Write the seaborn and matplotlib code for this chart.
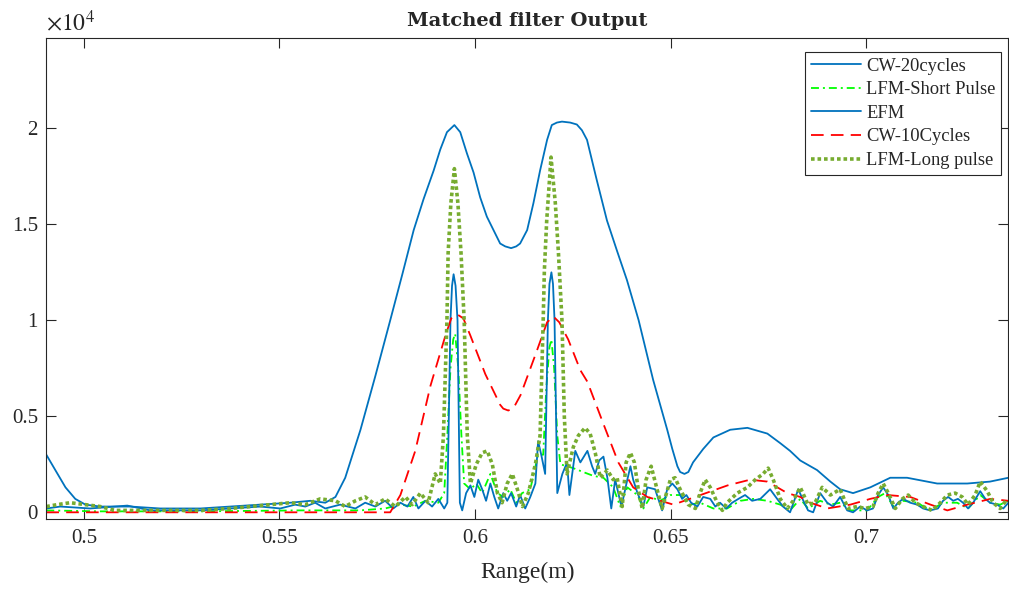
import numpy as np
import pandas as pd
import matplotlib
matplotlib.use('Agg')
import matplotlib.pyplot as plt
from matplotlib.ticker import FuncFormatter
import seaborn as sns

# Range (m) and matched filter output

# CW-20cycles (broad, smooth)
cw20_x = [0.4904, 0.4927, 0.4953, 0.4978, 0.5004, 0.5042, 0.5119, 0.5195, 0.5298, 0.5374,
          0.5451, 0.5528, 0.5579, 0.5617, 0.5643, 0.5668, 0.5707, 0.5745, 0.5783, 0.5814,
          0.5843, 0.5868, 0.5894, 0.5911, 0.5928, 0.5947, 0.5962, 0.5979, 0.5996, 0.6013,
          0.6030, 0.6047, 0.6064, 0.6077, 0.6092, 0.6105, 0.6115, 0.6133, 0.6149, 0.6166,
          0.6184, 0.6196, 0.6209, 0.6222, 0.6243, 0.6260, 0.6273, 0.6286, 0.6311, 0.6337,
          0.6363, 0.6388, 0.6418, 0.6455, 0.6473, 0.6491, 0.6504, 0.6517, 0.6524, 0.6535,
          0.6545, 0.6557, 0.6583, 0.6609, 0.6652, 0.6696, 0.6747, 0.6780, 0.6805, 0.6831,
          0.6874, 0.6908, 0.6933, 0.6966, 0.7010, 0.7061, 0.7104, 0.7181, 0.7258, 0.7316,
          0.7363]
cw20_y = [3000, 2200, 1300, 700, 400, 300, 300, 200, 200, 300,
          400, 500, 600, 500, 800, 1800, 4300, 7100, 10000, 12400,
          14700, 16300, 17800, 18900, 19800, 20170, 19800, 18700, 17700, 16400,
          15400, 14700, 14000, 13850, 13760, 13850, 14000, 14700, 16100, 17800,
          19400, 20170, 20300, 20350, 20300, 20200, 19900, 19400, 17300, 15200,
          13600, 12100, 10000, 6900, 5600, 4300, 3300, 2400, 2100, 2000,
          2100, 2600, 3300, 3900, 4300, 4400, 4100, 3600, 3200, 2700,
          2200, 1600, 1200, 1000, 1300, 1800, 1800, 1500, 1500, 1600,
          1800]

# LFM-Short Pulse
lfms_x = [0.4904, 0.5042, 0.5298, 0.5553, 0.5706, 0.5770, 0.5809, 0.5842, 0.5873, 0.5906,
          0.5921, 0.5929, 0.5937, 0.5944, 0.5949, 0.5957, 0.5965, 0.5972, 0.5988, 0.6003,
          0.6018, 0.6039, 0.6057, 0.6072, 0.6090, 0.6105, 0.6120, 0.6141, 0.6161, 0.6174,
          0.6182, 0.6190, 0.6195, 0.6202, 0.6210, 0.6218, 0.6251, 0.6276, 0.6302, 0.6328,
          0.6353, 0.6371, 0.6389, 0.6415, 0.6430, 0.6448, 0.6473, 0.6499, 0.6524, 0.6550,
          0.6575, 0.6609, 0.6644, 0.6678, 0.6711, 0.6747, 0.6780, 0.6805, 0.6831, 0.6851,
          0.6882, 0.6908, 0.6933, 0.6959, 0.7002, 0.7030, 0.7048, 0.7069, 0.7094, 0.7130,
          0.7163, 0.7196, 0.7232, 0.7260, 0.7291, 0.7316, 0.7342, 0.7363]
lfms_y = [100, 50, 50, 100, 100, 200, 400, 300, 600, 500,
          1000, 4000, 7500, 9000, 9300, 7500, 4000, 1500, 1200, 1500,
          1000, 2000, 1000, 800, 1200, 500, 1000, 1200, 3000, 3000,
          6500, 8600, 9000, 7500, 4000, 2500, 2300, 2100, 1900, 1800,
          1300, 300, 1300, 900, 200, 800, 600, 900, 900, 400,
          500, 200, 200, 600, 700, 600, 400, 100, 700, 200,
          600, 400, 500, 100, 100, 800, 1000, 300, 600, 500,
          100, 500, 500, 200, 900, 500, 400, 600]

# EFM (narrow spikes)
efm_x = [0.4904, 0.4940, 0.5016, 0.5111, 0.5170, 0.5298, 0.5374, 0.5451, 0.5502, 0.5540,
         0.5566, 0.5591, 0.5617, 0.5655, 0.5694, 0.5719, 0.5745, 0.5770, 0.5791, 0.5809,
         0.5827, 0.5842, 0.5855, 0.5873, 0.5890, 0.5906, 0.5921, 0.5929, 0.5937, 0.5941,
         0.5945, 0.5950, 0.5955, 0.5961, 0.5967, 0.5977, 0.5988, 0.5998, 0.6008, 0.6018,
         0.6028, 0.6039, 0.6049, 0.6059, 0.6072, 0.6082, 0.6092, 0.6105, 0.6115, 0.6128,
         0.6141, 0.6154, 0.6161, 0.6169, 0.6179, 0.6186, 0.6190, 0.6195, 0.6199, 0.6203,
         0.6210, 0.6223, 0.6235, 0.6241, 0.6256, 0.6269, 0.6287, 0.6299, 0.6307, 0.6317,
         0.6328, 0.6338, 0.6348, 0.6358, 0.6374, 0.6389, 0.6397, 0.6404, 0.6415, 0.6430,
         0.6440, 0.6460, 0.6478, 0.6491, 0.6504, 0.6517, 0.6529, 0.6540, 0.6552, 0.6568,
         0.6583, 0.6601, 0.6614, 0.6626, 0.6642, 0.6657, 0.6673, 0.6690, 0.6708, 0.6729,
         0.6754, 0.6772, 0.6787, 0.6805, 0.6826, 0.6839, 0.6851, 0.6864, 0.6882, 0.6900,
         0.6915, 0.6933, 0.6951, 0.6966, 0.6984, 0.7002, 0.7017, 0.7030, 0.7043, 0.7056,
         0.7069, 0.7081, 0.7094, 0.7112, 0.7130, 0.7145, 0.7163, 0.7183, 0.7196, 0.7209,
         0.7222, 0.7234, 0.7247, 0.7260, 0.7273, 0.7291, 0.7304, 0.7316, 0.7334, 0.7350,
         0.7363]
efm_y = [200, 300, 200, 350, 100, 100, 200, 300, 200, 400,
         300, 500, 200, 400, 200, 500, 300, 600, 200, 500,
         300, 800, 200, 600, 300, 700, 200, 500, 10000, 11800,
         12400, 11800, 10000, 500, 100, 1000, 1400, 800, 1700, 1200,
         600, 1500, 800, 200, 1000, 600, 1000, 300, 900, 200,
         800, 1500, 3700, 3000, 2000, 10000, 11900, 12500, 11900, 10000,
         1000, 2000, 2600, 900, 3200, 2600, 3200, 2400, 2000, 2700,
         2900, 1800, 200, 1700, 300, 1700, 2400, 1700, 1000, 300,
         1300, 1200, 100, 1200, 1500, 1200, 700, 900, 500, 300,
         800, 700, 300, 500, 200, 500, 700, 900, 600, 700,
         1200, 700, 300, 0, 1200, 600, 100, 0, 1000, 500,
         300, 800, 100, 0, 300, 100, 200, 900, 1300, 900,
         200, 500, 700, 500, 400, 200, 100, 200, 600, 800,
         600, 700, 500, 200, 500, 1100, 700, 500, 400, 200,
         500]

# CW-10Cycles
cw10_x = [0.4904, 0.5783, 0.5809, 0.5847, 0.5886, 0.5924, 0.5939, 0.5955, 0.5970, 0.5988,
          0.6026, 0.6064, 0.6072, 0.6085, 0.6100, 0.6116, 0.6154, 0.6184, 0.6200, 0.6215,
          0.6238, 0.6269, 0.6287, 0.6328, 0.6366, 0.6404, 0.6440, 0.6507, 0.6576, 0.6645,
          0.6703, 0.6747, 0.6798, 0.6831, 0.6857, 0.6900, 0.6959, 0.7010, 0.7054, 0.7112,
          0.7164, 0.7207, 0.7258, 0.7317, 0.7363]
cw10_y = [0, 0, 900, 3200, 6600, 9200, 10100, 10300, 10100, 9200,
          7200, 5600, 5400, 5300, 5500, 6100, 8200, 9900, 10200, 9900,
          9000, 7400, 6800, 4600, 2600, 1300, 800, 400, 900, 1400,
          1700, 1600, 1000, 800, 500, 200, 400, 700, 900, 800,
          400, 100, 400, 700, 600]

# LFM-Long pulse
lfml_x = [0.4904, 0.4932, 0.4965, 0.5004, 0.5042, 0.5080, 0.5144, 0.5221, 0.5298, 0.5374,
          0.5425, 0.5476, 0.5528, 0.5566, 0.5604, 0.5643, 0.5668, 0.5694, 0.5719, 0.5745,
          0.5770, 0.5796, 0.5822, 0.5839, 0.5860, 0.5880, 0.5898, 0.5911, 0.5919, 0.5928,
          0.5931, 0.5938, 0.5947, 0.5956, 0.5964, 0.5972, 0.5980, 0.5988, 0.6003, 0.6018,
          0.6031, 0.6044, 0.6057, 0.6069, 0.6082, 0.6095, 0.6108, 0.6121, 0.6136, 0.6154,
          0.6166, 0.6174, 0.6177, 0.6183, 0.6194, 0.6205, 0.6213, 0.6222, 0.6228, 0.6235,
          0.6251, 0.6264, 0.6281, 0.6294, 0.6307, 0.6320, 0.6338, 0.6353, 0.6363, 0.6376,
          0.6386, 0.6397, 0.6407, 0.6417, 0.6427, 0.6437, 0.6450, 0.6465, 0.6478, 0.6499,
          0.6511, 0.6524, 0.6545, 0.6563, 0.6575, 0.6588, 0.6601, 0.6619, 0.6632, 0.6644,
          0.6670, 0.6696, 0.6716, 0.6736, 0.6749, 0.6762, 0.6780, 0.6798, 0.6813, 0.6831,
          0.6851, 0.6869, 0.6887, 0.6908, 0.6933, 0.6953, 0.6976, 0.6997, 0.7017, 0.7030,
          0.7043, 0.7056, 0.7074, 0.7092, 0.7107, 0.7125, 0.7145, 0.7168, 0.7189, 0.7207,
          0.7227, 0.7245, 0.7260, 0.7278, 0.7291, 0.7309, 0.7324, 0.7342, 0.7360]
lfml_y = [300, 400, 500, 400, 300, 100, 100, 100, 100, 200,
          300, 400, 500, 400, 700, 600, 300, 600, 800, 400,
          700, 300, 800, 400, 1000, 500, 2000, 1500, 4000, 10000,
          13500, 16100, 17900, 16100, 13500, 10000, 4000, 1500, 2500, 3100,
          3200, 2500, 1000, 500, 1500, 2000, 1200, 300, 1000, 2500,
          4000, 10000, 12600, 15200, 18500, 16100, 13500, 10000, 5000, 2000,
          3400, 4000, 4400, 4100, 3100, 1800, 2200, 1700, 1800, 300,
          2600, 3100, 2600, 1200, 200, 1700, 2400, 1200, 200, 1700,
          1800, 1200, 400, 200, 1000, 1700, 1300, 500, 100, 500,
          1000, 1300, 1700, 2000, 2300, 1700, 700, 200, 600, 1300,
          400, 500, 1300, 900, 1200, 200, 300, 200, 300, 1000,
          1500, 1000, 200, 700, 900, 500, 300, 100, 500, 900,
          1000, 800, 400, 900, 1600, 1100, 500, 200, 700]

series = [
    ('CW-20cycles', cw20_x, cw20_y, '#0072BD', '-', 1.3),
    ('LFM-Short Pulse', lfms_x, lfms_y, '#00FF00', (0, (4.4, 2.2, 1.1, 2.2)), 1.3),
    ('EFM', efm_x, efm_y, '#0072BD', '-', 1.3),
    ('CW-10Cycles', cw10_x, cw10_y, '#FF0000', (0, (7, 4)), 1.3),
    ('LFM-Long pulse', lfml_x, lfml_y, '#77AC30', (0, (1, 0.8)), 2.6),
]

sns.set_style('ticks')
plt.rcParams['font.family'] = ['Liberation Serif', 'DejaVu Serif']
plt.rcParams['mathtext.fontset'] = 'stix'

fig = plt.figure(figsize=(10.09, 5.89), dpi=100)
ax = fig.add_axes([0.0459, 0.1183, 0.9531, 0.8167])

for name, xs, ys, col, ls, lw in series:
    df = pd.DataFrame({'range': xs, 'out': ys})
    sns.lineplot(data=df, x='range', y='out', ax=ax, color=col, linestyle=ls,
                 linewidth=lw, label=name, estimator=None, sort=False)

ax.set_xlim(0.4904, 0.7362)
ax.set_ylim(-365, 24690)
ax.set_xticks([0.5, 0.55, 0.6, 0.65, 0.7])
ax.set_xticklabels(['0.5', '0.55', '0.6', '0.65', '0.7'])
ax.set_yticks([0, 5000, 10000, 15000, 20000])
ax.yaxis.set_major_formatter(FuncFormatter(lambda v, p: '%g' % (v / 1e4)))
ax.tick_params(direction='in', length=7, width=0.8, top=True, right=True,
               labelsize=15, colors='#262626')
ax.tick_params(axis='x', pad=7)
ax.tick_params(axis='y', pad=6)
for s in ax.spines.values():
    s.set_color('#262626')
    s.set_linewidth(0.8)

ax.set_xlabel('Range(m)', fontsize=17, color='#262626', labelpad=10)
ax.set_ylabel('')
ax.set_title('Matched filter Output', fontsize=14, fontweight='bold', pad=9,
             family=['DejaVu Serif'])
ax.text(0.0, 1.006, r'$\times10^{4}$', transform=ax.transAxes, fontsize=17,
        ha='left', va='bottom', color='#262626')

leg = ax.legend(loc='upper right', bbox_to_anchor=(0.9927, 0.9715), fontsize=13.3,
                frameon=True, fancybox=False, framealpha=1, edgecolor='#262626',
                handlelength=2.7, borderpad=0.3, labelspacing=0.36, handletextpad=0.3,
                borderaxespad=0)
leg.get_frame().set_linewidth(0.8)

fig.savefig('out.png', dpi=100)
